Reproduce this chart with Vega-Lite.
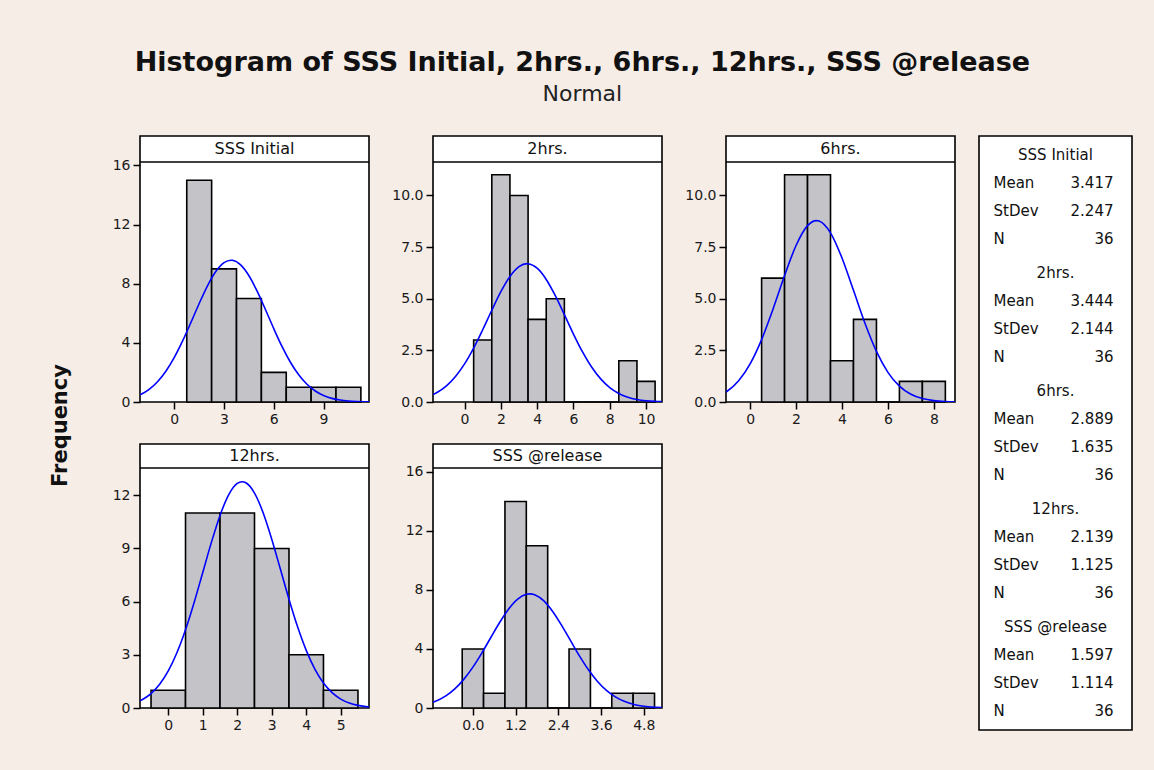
{
  "$schema": "https://vega.github.io/schema/vega-lite/v6.json",
  "background": "#F6EDE7",
  "padding": {"left": 32, "top": 49, "right": 24, "bottom": 40},
  "autosize": {"type": "pad"},
  "title": {
    "text": "Histogram of SSS Initial, 2hrs., 6hrs., 12hrs., SSS @release",
    "subtitle": "Normal",
    "anchor": "middle",
    "font": "DejaVu Sans",
    "fontSize": 27,
    "fontWeight": "bold",
    "color": "#111111",
    "subtitleFont": "DejaVu Sans",
    "subtitleFontSize": 22,
    "subtitleColor": "#222222",
    "subtitlePadding": 7,
    "offset": 29
  },
  "datasets": {
    "bins": [
      {"panel": "SSS Initial", "bin_start": 0.75, "bin_end": 2.25, "count": 15},
      {"panel": "SSS Initial", "bin_start": 2.25, "bin_end": 3.75, "count": 9},
      {"panel": "SSS Initial", "bin_start": 3.75, "bin_end": 5.25, "count": 7},
      {"panel": "SSS Initial", "bin_start": 5.25, "bin_end": 6.75, "count": 2},
      {"panel": "SSS Initial", "bin_start": 6.75, "bin_end": 8.25, "count": 1},
      {"panel": "SSS Initial", "bin_start": 8.25, "bin_end": 9.75, "count": 1},
      {"panel": "SSS Initial", "bin_start": 9.75, "bin_end": 11.25, "count": 1},
      {"panel": "2hrs.", "bin_start": 0.5, "bin_end": 1.5, "count": 3},
      {"panel": "2hrs.", "bin_start": 1.5, "bin_end": 2.5, "count": 11},
      {"panel": "2hrs.", "bin_start": 2.5, "bin_end": 3.5, "count": 10},
      {"panel": "2hrs.", "bin_start": 3.5, "bin_end": 4.5, "count": 4},
      {"panel": "2hrs.", "bin_start": 4.5, "bin_end": 5.5, "count": 5},
      {"panel": "2hrs.", "bin_start": 5.5, "bin_end": 6.5, "count": 0},
      {"panel": "2hrs.", "bin_start": 6.5, "bin_end": 7.5, "count": 0},
      {"panel": "2hrs.", "bin_start": 7.5, "bin_end": 8.5, "count": 0},
      {"panel": "2hrs.", "bin_start": 8.5, "bin_end": 9.5, "count": 2},
      {"panel": "2hrs.", "bin_start": 9.5, "bin_end": 10.5, "count": 1},
      {"panel": "6hrs.", "bin_start": 0.5, "bin_end": 1.5, "count": 6},
      {"panel": "6hrs.", "bin_start": 1.5, "bin_end": 2.5, "count": 11},
      {"panel": "6hrs.", "bin_start": 2.5, "bin_end": 3.5, "count": 11},
      {"panel": "6hrs.", "bin_start": 3.5, "bin_end": 4.5, "count": 2},
      {"panel": "6hrs.", "bin_start": 4.5, "bin_end": 5.5, "count": 4},
      {"panel": "6hrs.", "bin_start": 5.5, "bin_end": 6.5, "count": 0},
      {"panel": "6hrs.", "bin_start": 6.5, "bin_end": 7.5, "count": 1},
      {"panel": "6hrs.", "bin_start": 7.5, "bin_end": 8.5, "count": 1},
      {"panel": "12hrs.", "bin_start": -0.5, "bin_end": 0.5, "count": 1},
      {"panel": "12hrs.", "bin_start": 0.5, "bin_end": 1.5, "count": 11},
      {"panel": "12hrs.", "bin_start": 1.5, "bin_end": 2.5, "count": 11},
      {"panel": "12hrs.", "bin_start": 2.5, "bin_end": 3.5, "count": 9},
      {"panel": "12hrs.", "bin_start": 3.5, "bin_end": 4.5, "count": 3},
      {"panel": "12hrs.", "bin_start": 4.5, "bin_end": 5.5, "count": 1},
      {"panel": "SSS @release", "bin_start": -0.3, "bin_end": 0.3, "count": 4},
      {"panel": "SSS @release", "bin_start": 0.3, "bin_end": 0.9, "count": 1},
      {"panel": "SSS @release", "bin_start": 0.9, "bin_end": 1.5, "count": 14},
      {"panel": "SSS @release", "bin_start": 1.5, "bin_end": 2.1, "count": 11},
      {"panel": "SSS @release", "bin_start": 2.1, "bin_end": 2.7, "count": 0},
      {"panel": "SSS @release", "bin_start": 2.7, "bin_end": 3.3, "count": 4},
      {"panel": "SSS @release", "bin_start": 3.3, "bin_end": 3.9, "count": 0},
      {"panel": "SSS @release", "bin_start": 3.9, "bin_end": 4.5, "count": 1},
      {"panel": "SSS @release", "bin_start": 4.5, "bin_end": 5.1, "count": 1}
    ],
    "curves": [
      {"panel": "SSS Initial", "x": -2.07, "y": 0.486},
      {"panel": "SSS Initial", "x": -2.0, "y": 0.524},
      {"panel": "SSS Initial", "x": -1.5, "y": 0.875},
      {"panel": "SSS Initial", "x": -1.0, "y": 1.389},
      {"panel": "SSS Initial", "x": -0.5, "y": 2.098},
      {"panel": "SSS Initial", "x": 0.0, "y": 3.017},
      {"panel": "SSS Initial", "x": 0.5, "y": 4.128},
      {"panel": "SSS Initial", "x": 1.0, "y": 5.376},
      {"panel": "SSS Initial", "x": 1.5, "y": 6.663},
      {"panel": "SSS Initial", "x": 2.0, "y": 7.859},
      {"panel": "SSS Initial", "x": 2.5, "y": 8.822},
      {"panel": "SSS Initial", "x": 3.0, "y": 9.424},
      {"panel": "SSS Initial", "x": 3.417, "y": 9.587},
      {"panel": "SSS Initial", "x": 3.5, "y": 9.581},
      {"panel": "SSS Initial", "x": 4.0, "y": 9.270},
      {"panel": "SSS Initial", "x": 4.5, "y": 8.536},
      {"panel": "SSS Initial", "x": 5.0, "y": 7.480},
      {"panel": "SSS Initial", "x": 5.5, "y": 6.239},
      {"panel": "SSS Initial", "x": 6.0, "y": 4.952},
      {"panel": "SSS Initial", "x": 6.5, "y": 3.740},
      {"panel": "SSS Initial", "x": 7.0, "y": 2.689},
      {"panel": "SSS Initial", "x": 7.5, "y": 1.840},
      {"panel": "SSS Initial", "x": 8.0, "y": 1.198},
      {"panel": "SSS Initial", "x": 8.5, "y": 0.742},
      {"panel": "SSS Initial", "x": 9.0, "y": 0.438},
      {"panel": "SSS Initial", "x": 9.5, "y": 0.246},
      {"panel": "SSS Initial", "x": 10.0, "y": 0.131},
      {"panel": "SSS Initial", "x": 10.5, "y": 0.067},
      {"panel": "SSS Initial", "x": 11.0, "y": 0.032},
      {"panel": "SSS Initial", "x": 11.5, "y": 0.015},
      {"panel": "SSS Initial", "x": 11.74, "y": 0.010},
      {"panel": "2hrs.", "x": -1.74, "y": 0.360},
      {"panel": "2hrs.", "x": -1.5, "y": 0.469},
      {"panel": "2hrs.", "x": -1.0, "y": 0.782},
      {"panel": "2hrs.", "x": -0.5, "y": 1.234},
      {"panel": "2hrs.", "x": 0.0, "y": 1.844},
      {"panel": "2hrs.", "x": 0.5, "y": 2.610},
      {"panel": "2hrs.", "x": 1.0, "y": 3.498},
      {"panel": "2hrs.", "x": 1.5, "y": 4.441},
      {"panel": "2hrs.", "x": 2.0, "y": 5.340},
      {"panel": "2hrs.", "x": 2.5, "y": 6.080},
      {"panel": "2hrs.", "x": 3.0, "y": 6.557},
      {"panel": "2hrs.", "x": 3.444, "y": 6.699},
      {"panel": "2hrs.", "x": 3.5, "y": 6.696},
      {"panel": "2hrs.", "x": 4.0, "y": 6.477},
      {"panel": "2hrs.", "x": 4.5, "y": 5.934},
      {"panel": "2hrs.", "x": 5.0, "y": 5.148},
      {"panel": "2hrs.", "x": 5.5, "y": 4.230},
      {"panel": "2hrs.", "x": 6.0, "y": 3.291},
      {"panel": "2hrs.", "x": 6.5, "y": 2.425},
      {"panel": "2hrs.", "x": 7.0, "y": 1.693},
      {"panel": "2hrs.", "x": 7.5, "y": 1.119},
      {"panel": "2hrs.", "x": 8.0, "y": 0.701},
      {"panel": "2hrs.", "x": 8.5, "y": 0.415},
      {"panel": "2hrs.", "x": 9.0, "y": 0.233},
      {"panel": "2hrs.", "x": 9.5, "y": 0.124},
      {"panel": "2hrs.", "x": 10.0, "y": 0.063},
      {"panel": "2hrs.", "x": 10.5, "y": 0.030},
      {"panel": "2hrs.", "x": 10.88, "y": 0.016},
      {"panel": "6hrs.", "x": -1.05, "y": 0.482},
      {"panel": "6hrs.", "x": -1.0, "y": 0.519},
      {"panel": "6hrs.", "x": -0.5, "y": 1.025},
      {"panel": "6hrs.", "x": 0.0, "y": 1.844},
      {"panel": "6hrs.", "x": 0.5, "y": 3.020},
      {"panel": "6hrs.", "x": 1.0, "y": 4.506},
      {"panel": "6hrs.", "x": 1.5, "y": 6.123},
      {"panel": "6hrs.", "x": 2.0, "y": 7.577},
      {"panel": "6hrs.", "x": 2.5, "y": 8.539},
      {"panel": "6hrs.", "x": 2.889, "y": 8.784},
      {"panel": "6hrs.", "x": 3.0, "y": 8.764},
      {"panel": "6hrs.", "x": 3.5, "y": 8.192},
      {"panel": "6hrs.", "x": 4.0, "y": 6.973},
      {"panel": "6hrs.", "x": 4.5, "y": 5.406},
      {"panel": "6hrs.", "x": 5.0, "y": 3.817},
      {"panel": "6hrs.", "x": 5.5, "y": 2.454},
      {"panel": "6hrs.", "x": 6.0, "y": 1.437},
      {"panel": "6hrs.", "x": 6.5, "y": 0.767},
      {"panel": "6hrs.", "x": 7.0, "y": 0.372},
      {"panel": "6hrs.", "x": 7.5, "y": 0.165},
      {"panel": "6hrs.", "x": 8.0, "y": 0.066},
      {"panel": "6hrs.", "x": 8.5, "y": 0.024},
      {"panel": "6hrs.", "x": 8.92, "y": 0.010},
      {"panel": "12hrs.", "x": -0.82, "y": 0.402},
      {"panel": "12hrs.", "x": -0.5, "y": 0.815},
      {"panel": "12hrs.", "x": -0.25, "y": 1.339},
      {"panel": "12hrs.", "x": 0.0, "y": 2.094},
      {"panel": "12hrs.", "x": 0.25, "y": 3.118},
      {"panel": "12hrs.", "x": 0.5, "y": 4.417},
      {"panel": "12hrs.", "x": 0.75, "y": 5.957},
      {"panel": "12hrs.", "x": 1.0, "y": 7.647},
      {"panel": "12hrs.", "x": 1.25, "y": 9.343},
      {"panel": "12hrs.", "x": 1.5, "y": 10.864},
      {"panel": "12hrs.", "x": 1.75, "y": 12.025},
      {"panel": "12hrs.", "x": 2.0, "y": 12.669},
      {"panel": "12hrs.", "x": 2.139, "y": 12.766},
      {"panel": "12hrs.", "x": 2.25, "y": 12.704},
      {"panel": "12hrs.", "x": 2.5, "y": 12.125},
      {"panel": "12hrs.", "x": 2.75, "y": 11.015},
      {"panel": "12hrs.", "x": 3.0, "y": 9.525},
      {"panel": "12hrs.", "x": 3.25, "y": 7.839},
      {"panel": "12hrs.", "x": 3.5, "y": 6.141},
      {"panel": "12hrs.", "x": 3.75, "y": 4.579},
      {"panel": "12hrs.", "x": 4.0, "y": 3.250},
      {"panel": "12hrs.", "x": 4.25, "y": 2.195},
      {"panel": "12hrs.", "x": 4.5, "y": 1.411},
      {"panel": "12hrs.", "x": 4.75, "y": 0.864},
      {"panel": "12hrs.", "x": 5.0, "y": 0.503},
      {"panel": "12hrs.", "x": 5.25, "y": 0.279},
      {"panel": "12hrs.", "x": 5.5, "y": 0.147},
      {"panel": "12hrs.", "x": 5.82, "y": 0.060},
      {"panel": "SSS @release", "x": -1.12, "y": 0.395},
      {"panel": "SSS @release", "x": -1.0, "y": 0.511},
      {"panel": "SSS @release", "x": -0.75, "y": 0.841},
      {"panel": "SSS @release", "x": -0.5, "y": 1.315},
      {"panel": "SSS @release", "x": -0.25, "y": 1.957},
      {"panel": "SSS @release", "x": 0.0, "y": 2.768},
      {"panel": "SSS @release", "x": 0.25, "y": 3.724},
      {"panel": "SSS @release", "x": 0.5, "y": 4.764},
      {"panel": "SSS @release", "x": 0.75, "y": 5.793},
      {"panel": "SSS @release", "x": 1.0, "y": 6.701},
      {"panel": "SSS @release", "x": 1.25, "y": 7.369},
      {"panel": "SSS @release", "x": 1.5, "y": 7.706},
      {"panel": "SSS @release", "x": 1.597, "y": 7.735},
      {"panel": "SSS @release", "x": 1.75, "y": 7.663},
      {"panel": "SSS @release", "x": 2.0, "y": 7.245},
      {"panel": "SSS @release", "x": 2.25, "y": 6.514},
      {"panel": "SSS @release", "x": 2.5, "y": 5.569},
      {"panel": "SSS @release", "x": 2.75, "y": 4.528},
      {"panel": "SSS @release", "x": 3.0, "y": 3.500},
      {"panel": "SSS @release", "x": 3.25, "y": 2.573},
      {"panel": "SSS @release", "x": 3.5, "y": 1.798},
      {"panel": "SSS @release", "x": 3.75, "y": 1.195},
      {"panel": "SSS @release", "x": 4.0, "y": 0.755},
      {"panel": "SSS @release", "x": 4.25, "y": 0.454},
      {"panel": "SSS @release", "x": 4.5, "y": 0.259},
      {"panel": "SSS @release", "x": 4.75, "y": 0.141},
      {"panel": "SSS @release", "x": 5.0, "y": 0.073},
      {"panel": "SSS @release", "x": 5.31, "y": 0.030}
    ],
    "stats": [
      {"group": "SSS Initial", "item": "head", "label": "SSS Initial"},
      {"group": "SSS Initial", "item": "Mean", "label": "Mean", "value": 3.417},
      {"group": "SSS Initial", "item": "StDev", "label": "StDev", "value": 2.247},
      {"group": "SSS Initial", "item": "N", "label": "N", "value": 36},
      {"group": "2hrs.", "item": "head", "label": "2hrs."},
      {"group": "2hrs.", "item": "Mean", "label": "Mean", "value": 3.444},
      {"group": "2hrs.", "item": "StDev", "label": "StDev", "value": 2.144},
      {"group": "2hrs.", "item": "N", "label": "N", "value": 36},
      {"group": "6hrs.", "item": "head", "label": "6hrs."},
      {"group": "6hrs.", "item": "Mean", "label": "Mean", "value": 2.889},
      {"group": "6hrs.", "item": "StDev", "label": "StDev", "value": 1.635},
      {"group": "6hrs.", "item": "N", "label": "N", "value": 36},
      {"group": "12hrs.", "item": "head", "label": "12hrs."},
      {"group": "12hrs.", "item": "Mean", "label": "Mean", "value": 2.139},
      {"group": "12hrs.", "item": "StDev", "label": "StDev", "value": 1.125},
      {"group": "12hrs.", "item": "N", "label": "N", "value": 36},
      {"group": "SSS @release", "item": "head", "label": "SSS @release"},
      {"group": "SSS @release", "item": "Mean", "label": "Mean", "value": 1.597},
      {"group": "SSS @release", "item": "StDev", "label": "StDev", "value": 1.114},
      {"group": "SSS @release", "item": "N", "label": "N", "value": 36}
    ]
  },
  "spacing": 21,
  "hconcat": [
    {
      "width": 58,
      "height": 579,
      "view": {"stroke": null, "fill": null},
      "data": {"values": [{"axis_title": "Frequency"}]},
      "mark": {"type": "text", "angle": 270, "font": "DejaVu Sans", "fontSize": 21, "fontWeight": "bold", "color": "#111111", "baseline": "middle", "align": "center"},
      "encoding": {"text": {"field": "axis_title"}}
    },
    {
      "columns": 3,
      "bounds": "flush",
      "spacing": {"row": 42, "column": 64},
      "concat": [
        {
          "width": 229,
          "height": 266,
          "layer": [
            {
              "data": {"name": "bins"},
              "transform": [{"filter": "datum.panel === 'SSS Initial'"}],
              "mark": {"type": "rect", "fill": "#C4C3C8", "stroke": "#000000", "strokeWidth": 1.6},
              "encoding": {
                "x": {"field": "bin_start", "type": "quantitative", "title": null, "scale": {"domain": [-2.07, 11.74], "nice": false, "zero": false}, "axis": {"values": [0, 3, 6, 9]}},
                "x2": {"field": "bin_end"},
                "y": {"field": "count", "type": "quantitative", "title": null, "scale": {"domain": [0, 17.988], "nice": false}, "axis": {"values": [0, 4, 8, 12, 16]}},
                "y2": {"datum": 0}
              }
            },
            {
              "data": {"name": "curves"},
              "transform": [{"filter": "datum.panel === 'SSS Initial'"}],
              "mark": {"type": "line", "color": "#0000FF", "strokeWidth": 1.6, "interpolate": "monotone", "clip": true},
              "encoding": {
                "x": {"field": "x", "type": "quantitative", "title": null},
                "y": {"field": "y", "type": "quantitative", "title": null}
              }
            },
            {
              "data": {"name": "stats"},
              "transform": [{"filter": "datum.item === 'head' && datum.group === 'SSS Initial'"}],
              "mark": {"type": "rule", "color": "#000000", "strokeWidth": 1.6},
              "encoding": {"y": {"datum": 16.23}}
            },
            {
              "data": {"name": "stats"},
              "transform": [{"filter": "datum.item === 'head' && datum.group === 'SSS Initial'"}],
              "mark": {"type": "text", "fontSize": 16, "baseline": "middle", "color": "#111111"},
              "encoding": {"y": {"datum": 17.109}, "text": {"field": "label"}}
            }
          ]
        },
        {
          "width": 229,
          "height": 266,
          "layer": [
            {
              "data": {"name": "bins"},
              "transform": [{"filter": "datum.panel === '2hrs.'"}],
              "mark": {"type": "rect", "fill": "#C4C3C8", "stroke": "#000000", "strokeWidth": 1.6},
              "encoding": {
                "x": {"field": "bin_start", "type": "quantitative", "title": null, "scale": {"domain": [-1.74, 10.88], "nice": false, "zero": false}, "axis": {"values": [0, 2, 4, 6, 8, 10]}},
                "x2": {"field": "bin_end"},
                "y": {"field": "count", "type": "quantitative", "title": null, "scale": {"domain": [0, 12.879], "nice": false}, "axis": {"values": [0, 2.5, 5, 7.5, 10], "format": ".1f"}},
                "y2": {"datum": 0}
              }
            },
            {
              "data": {"name": "curves"},
              "transform": [{"filter": "datum.panel === '2hrs.'"}],
              "mark": {"type": "line", "color": "#0000FF", "strokeWidth": 1.6, "interpolate": "monotone", "clip": true},
              "encoding": {
                "x": {"field": "x", "type": "quantitative", "title": null},
                "y": {"field": "y", "type": "quantitative", "title": null}
              }
            },
            {
              "data": {"name": "stats"},
              "transform": [{"filter": "datum.item === 'head' && datum.group === '2hrs.'"}],
              "mark": {"type": "rule", "color": "#000000", "strokeWidth": 1.6},
              "encoding": {"y": {"datum": 11.62}}
            },
            {
              "data": {"name": "stats"},
              "transform": [{"filter": "datum.item === 'head' && datum.group === '2hrs.'"}],
              "mark": {"type": "text", "fontSize": 16, "baseline": "middle", "color": "#111111"},
              "encoding": {"y": {"datum": 12.25}, "text": {"field": "label"}}
            }
          ]
        },
        {
          "width": 229,
          "height": 266,
          "layer": [
            {
              "data": {"name": "bins"},
              "transform": [{"filter": "datum.panel === '6hrs.'"}],
              "mark": {"type": "rect", "fill": "#C4C3C8", "stroke": "#000000", "strokeWidth": 1.6},
              "encoding": {
                "x": {"field": "bin_start", "type": "quantitative", "title": null, "scale": {"domain": [-1.05, 8.92], "nice": false, "zero": false}, "axis": {"values": [0, 2, 4, 6, 8]}},
                "x2": {"field": "bin_end"},
                "y": {"field": "count", "type": "quantitative", "title": null, "scale": {"domain": [0, 12.879], "nice": false}, "axis": {"values": [0, 2.5, 5, 7.5, 10], "format": ".1f"}},
                "y2": {"datum": 0}
              }
            },
            {
              "data": {"name": "curves"},
              "transform": [{"filter": "datum.panel === '6hrs.'"}],
              "mark": {"type": "line", "color": "#0000FF", "strokeWidth": 1.6, "interpolate": "monotone", "clip": true},
              "encoding": {
                "x": {"field": "x", "type": "quantitative", "title": null},
                "y": {"field": "y", "type": "quantitative", "title": null}
              }
            },
            {
              "data": {"name": "stats"},
              "transform": [{"filter": "datum.item === 'head' && datum.group === '6hrs.'"}],
              "mark": {"type": "rule", "color": "#000000", "strokeWidth": 1.6},
              "encoding": {"y": {"datum": 11.62}}
            },
            {
              "data": {"name": "stats"},
              "transform": [{"filter": "datum.item === 'head' && datum.group === '6hrs.'"}],
              "mark": {"type": "text", "fontSize": 16, "baseline": "middle", "color": "#111111"},
              "encoding": {"y": {"datum": 12.25}, "text": {"field": "label"}}
            }
          ]
        },
        {
          "width": 229,
          "height": 264,
          "layer": [
            {
              "data": {"name": "bins"},
              "transform": [{"filter": "datum.panel === '12hrs.'"}],
              "mark": {"type": "rect", "fill": "#C4C3C8", "stroke": "#000000", "strokeWidth": 1.6},
              "encoding": {
                "x": {"field": "bin_start", "type": "quantitative", "title": null, "scale": {"domain": [-0.82, 5.82], "nice": false, "zero": false}, "axis": {"values": [0, 1, 2, 3, 4, 5]}},
                "x2": {"field": "bin_end"},
                "y": {"field": "count", "type": "quantitative", "title": null, "scale": {"domain": [0, 14.894], "nice": false}, "axis": {"values": [0, 3, 6, 9, 12]}},
                "y2": {"datum": 0}
              }
            },
            {
              "data": {"name": "curves"},
              "transform": [{"filter": "datum.panel === '12hrs.'"}],
              "mark": {"type": "line", "color": "#0000FF", "strokeWidth": 1.6, "interpolate": "monotone", "clip": true},
              "encoding": {
                "x": {"field": "x", "type": "quantitative", "title": null},
                "y": {"field": "y", "type": "quantitative", "title": null}
              }
            },
            {
              "data": {"name": "stats"},
              "transform": [{"filter": "datum.item === 'head' && datum.group === '12hrs.'"}],
              "mark": {"type": "rule", "color": "#000000", "strokeWidth": 1.6},
              "encoding": {"y": {"datum": 13.54}}
            },
            {
              "data": {"name": "stats"},
              "transform": [{"filter": "datum.item === 'head' && datum.group === '12hrs.'"}],
              "mark": {"type": "text", "fontSize": 16, "baseline": "middle", "color": "#111111"},
              "encoding": {"y": {"datum": 14.217}, "text": {"field": "label"}}
            }
          ]
        },
        {
          "width": 229,
          "height": 264,
          "layer": [
            {
              "data": {"name": "bins"},
              "transform": [{"filter": "datum.panel === 'SSS @release'"}],
              "mark": {"type": "rect", "fill": "#C4C3C8", "stroke": "#000000", "strokeWidth": 1.6},
              "encoding": {
                "x": {"field": "bin_start", "type": "quantitative", "title": null, "scale": {"domain": [-1.12, 5.31], "nice": false, "zero": false}, "axis": {"values": [0, 1.2, 2.4, 3.6, 4.8], "format": ".1f"}},
                "x2": {"field": "bin_end"},
                "y": {"field": "count", "type": "quantitative", "title": null, "scale": {"domain": [0, 17.897], "nice": false}, "axis": {"values": [0, 4, 8, 12, 16]}},
                "y2": {"datum": 0}
              }
            },
            {
              "data": {"name": "curves"},
              "transform": [{"filter": "datum.panel === 'SSS @release'"}],
              "mark": {"type": "line", "color": "#0000FF", "strokeWidth": 1.6, "interpolate": "monotone", "clip": true},
              "encoding": {
                "x": {"field": "x", "type": "quantitative", "title": null},
                "y": {"field": "y", "type": "quantitative", "title": null}
              }
            },
            {
              "data": {"name": "stats"},
              "transform": [{"filter": "datum.item === 'head' && datum.group === 'SSS @release'"}],
              "mark": {"type": "rule", "color": "#000000", "strokeWidth": 1.6},
              "encoding": {"y": {"datum": 16.27}}
            },
            {
              "data": {"name": "stats"},
              "transform": [{"filter": "datum.item === 'head' && datum.group === 'SSS @release'"}],
              "mark": {"type": "text", "fontSize": 16, "baseline": "middle", "color": "#111111"},
              "encoding": {"y": {"datum": 17.084}, "text": {"field": "label"}}
            }
          ]
        }
      ]
    },
    {
      "width": 153,
      "height": 594,
      "data": {"name": "stats"},
      "encoding": {
        "y": {"field": "group", "type": "nominal", "title": null, "scale": {"domain": ["SSS Initial", "2hrs.", "6hrs.", "12hrs.", "SSS @release"], "paddingInner": 0.053, "paddingOuter": 0.045}, "axis": null},
        "yOffset": {"field": "item", "type": "nominal", "scale": {"domain": ["head", "Mean", "StDev", "N"], "padding": 0.5}}
      },
      "layer": [
        {
          "transform": [{"filter": "datum.item === 'head'"}],
          "mark": {"type": "text", "fontSize": 15, "baseline": "middle", "color": "#111111"},
          "encoding": {"text": {"field": "label"}}
        },
        {
          "transform": [{"filter": "datum.item !== 'head'"}],
          "mark": {"type": "text", "fontSize": 15, "baseline": "middle", "align": "left", "dx": -62, "color": "#111111"},
          "encoding": {"text": {"field": "label"}}
        },
        {
          "transform": [{"filter": "datum.item !== 'head'"}],
          "mark": {"type": "text", "fontSize": 15, "baseline": "middle", "align": "right", "dx": 58, "color": "#111111"},
          "encoding": {"text": {"field": "value", "type": "quantitative"}}
        }
      ]
    }
  ],
  "config": {
    "font": "DejaVu Sans",
    "view": {"stroke": "#000000", "strokeWidth": 1.6, "fill": "#FFFFFF"},
    "axis": {
      "grid": false,
      "domain": false,
      "ticks": true,
      "tickColor": "#000000",
      "tickWidth": 1.5,
      "tickSize": 7,
      "labelFont": "DejaVu Sans",
      "labelFontSize": 14,
      "labelColor": "#1A1A1A",
      "labelPadding": 3
    }
  }
}
